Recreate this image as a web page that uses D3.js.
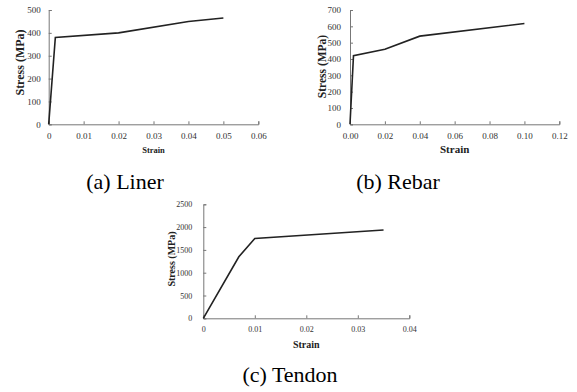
<!DOCTYPE html>
<head>
<meta charset="utf-8">
<script src="https://d3js.org/d3.v7.min.js"></script>
<style>
    body { margin: 0; background: #fff; }
    .axis path, .axis line { stroke: #777; }
    .axis text { fill: #333; }
    .curve { fill: none; stroke: #222; stroke-width: 1.6px; stroke-linejoin: miter; }
    .ylab, .xlab { font-weight: bold; fill: #222; }
    .caption { fill: #000; }
</style>
</head>
<body>
<script>
// stress-strain curves
var linerStrain = [0, 0.0019, 0.02, 0.04, 0.05];
var linerStress = [0, 380, 400, 450, 465];

var rebarStrain = [0, 0.002, 0.02, 0.04, 0.10];
var rebarStress = [0, 420, 460, 540, 617];

var tendonStrain = [0, 0.0069, 0.01, 0.035];
var tendonStress = [0, 1350, 1750, 1935];

var linerXTicks = [0, 0.01, 0.02, 0.03, 0.04, 0.05, 0.06];
var linerYTicks = [0, 100, 200, 300, 400, 500];
var rebarXTicks = [0, 0.02, 0.04, 0.06, 0.08, 0.10, 0.12];
var rebarYTicks = [0, 100, 200, 300, 400, 500, 600, 700];
var tendonXTicks = [0, 0.01, 0.02, 0.03, 0.04];
var tendonYTicks = [0, 500, 1000, 1500, 2000, 2500];

var captions = ["(a) Liner", "(b) Rebar", "(c) Tendon"];

var FONT = "Liberation Serif";

var svg = d3.select("body").append("svg")
    .attr("width", 577)
    .attr("height", 392)
    .attr("font-family", FONT);

function panel(opt) {
    var x = d3.scaleLinear()
        .domain(d3.extent(opt.xTicks))
        .range([opt.left, opt.right]);
    var y = d3.scaleLinear()
        .domain(d3.extent(opt.yTicks))
        .range([opt.bottom, opt.top]);

    var g = svg.append("g");

    g.append("g")
        .attr("class", "axis")
        .attr("transform", "translate(0," + opt.bottom + ")")
        .call(d3.axisBottom(x).tickValues(opt.xTicks).tickFormat(opt.xFmt)
            .tickSizeInner(-3).tickSizeOuter(-3).tickPadding(opt.xPad))
        .call(function(a) {
            a.attr("font-family", FONT).attr("font-size", opt.tickFont);
        });

    g.append("g")
        .attr("class", "axis")
        .attr("transform", "translate(" + opt.left + ",0)")
        .call(d3.axisLeft(y).tickValues(opt.yTicks).tickFormat(d3.format("d"))
            .tickSizeInner(-3).tickSizeOuter(-3).tickPadding(opt.yPad))
        .call(function(a) {
            a.attr("font-family", FONT).attr("font-size", opt.tickFont);
        });

    var line = d3.line()
        .x(function(d) { return x(d[0]); })
        .y(function(d) { return y(d[1]); });

    g.append("path")
        .datum(d3.zip(opt.strain, opt.stress))
        .attr("class", "curve")
        .attr("d", line);

    g.append("text")
        .attr("class", "ylab")
        .attr("transform", "translate(" + opt.ylabX + "," + opt.ylabY + ") rotate(-90)")
        .attr("text-anchor", "middle")
        .attr("dy", "0.35em")
        .attr("font-family", FONT)
        .attr("font-size", opt.labFont)
        .text("Stress (MPa)");

    g.append("text")
        .attr("class", "xlab")
        .attr("x", (opt.left + opt.right) / 2)
        .attr("y", opt.xlabY)
        .attr("text-anchor", "middle")
        .attr("dy", "0.35em")
        .attr("font-family", FONT)
        .attr("font-size", opt.xlabFont)
        .text("Strain");

    g.append("text")
        .attr("class", "caption")
        .attr("x", opt.capX)
        .attr("y", opt.capY)
        .attr("text-anchor", "middle")
        .attr("font-family", FONT)
        .attr("font-size", 22)
        .text(opt.caption);
}

panel({
    strain: linerStrain, stress: linerStress,
    xTicks: linerXTicks, yTicks: linerYTicks,
    xFmt: function(d) { return d === 0 ? "0" : d3.format(".2f")(d); },
    left: 48.7, right: 258.3, top: 10, bottom: 124.3,
    tickFont: 9, xPad: 8, yPad: 8,
    ylabX: 20, ylabY: 62.5, labFont: 12,
    xlabY: 150, xlabFont: 8.5,
    caption: captions[0], capX: 125, capY: 189
});

panel({
    strain: rebarStrain, stress: rebarStress,
    xTicks: rebarXTicks, yTicks: rebarYTicks,
    xFmt: d3.format(".2f"),
    left: 350, right: 559.3, top: 10, bottom: 124.3,
    tickFont: 9, xPad: 8, yPad: 9,
    ylabX: 322, ylabY: 66.5, labFont: 11.5,
    xlabY: 149, xlabFont: 11,
    caption: captions[1], capX: 398, capY: 189
});

panel({
    strain: tendonStrain, stress: tendonStress,
    xTicks: tendonXTicks, yTicks: tendonYTicks,
    xFmt: function(d) { return d === 0 ? "0" : d3.format(".2f")(d); },
    left: 203.3, right: 409.3, top: 204.3, bottom: 318.3,
    tickFont: 8, xPad: 8, yPad: 11,
    ylabX: 171, ylabY: 259, labFont: 10,
    xlabY: 344, xlabFont: 10,
    caption: captions[2], capX: 290, capY: 382
});
</script>
</body>
